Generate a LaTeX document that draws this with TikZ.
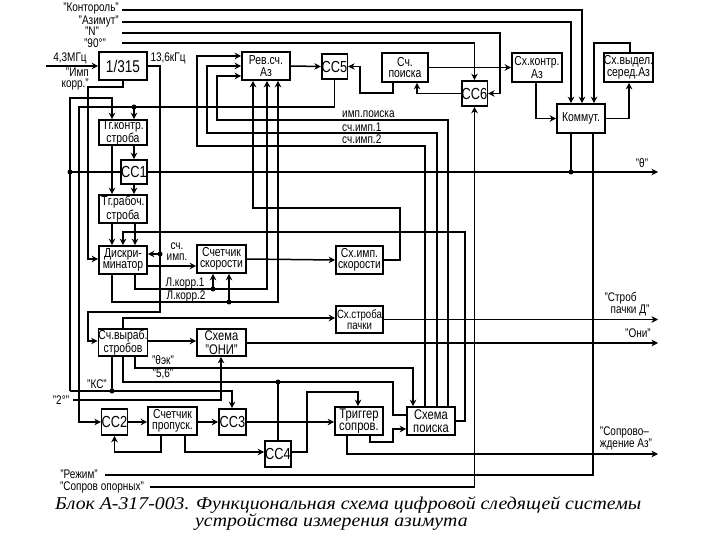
\documentclass[tikz,border=0pt]{standalone}
\usepackage{fontspec}
\setmainfont[FakeStretch=0.8]{Liberation Sans}
\newfontfamily\capfont[FakeStretch=1.1]{Liberation Serif}
\usetikzlibrary{arrows.meta}
\newcommand\mkblk[7][]{\node[blk,minimum width=#5pt,minimum height=#6pt,#1] (#2) at (#3,#4) {#7};}
\begin{document}
\begin{tikzpicture}[x=1pt,y=-1pt,
  blk/.style={draw,line width=1.6pt,inner sep=0pt,align=center,font=\fontsize{13}{11.5}\selectfont},
  big/.style={font=\fontsize{16}{14}\selectfont},
  w/.style={line width=1.5pt},
  ar/.style={w,-{Stealth[length=6.5pt,width=6.5pt,inset=2pt]}},
  lab/.style={inner sep=0pt,font=\fontsize{12.5}{11}\selectfont,align=center},
  dot/.style={circle,fill,inner sep=0pt,minimum size=5pt}]
\useasboundingbox (0,0) rectangle (720,540);
% blocks
\mkblk[font=\fontsize{17}{16}\selectfont]{div}{123}{66}{48}{28}{1/315}
\mkblk{rev}{266}{66}{48}{28}{Рев.сч.\\Аз}
\mkblk[big]{cc5}{334.5}{66.5}{25}{25}{СС5}
\mkblk{sp1}{405}{67.5}{46}{29}{Сч.\\поиска}
\mkblk[big]{cc6}{474.5}{93.5}{25}{25}{СС6}
\mkblk{skz}{537}{67.5}{50}{29}{Сх.контр.\\Аз}
\mkblk{svd}{628.5}{67.5}{49}{29}{Сх.выдел.\\серед.Аз}
\mkblk{kom}{581}{118.5}{48}{29}{Коммут.}
\mkblk{tgk}{123}{132.5}{48}{25}{Тг.контр.\\строба}
\mkblk[big]{cc1}{134}{172}{26}{24}{СС1}
\mkblk{tgr}{123}{209}{48}{28}{Тг.рабоч.\\строба}
\mkblk{dsk}{123}{260}{48}{28}{Дискри-\\минатор}
\mkblk{sks}{221.5}{259}{49}{28}{Счетчик\\скорости}
\mkblk{sis}{359.5}{260}{47}{28}{Сх.имп.\\скорости}
\mkblk[font=\fontsize{12}{11.5}\selectfont]{ssp}{359.5}{319.5}{47}{27}{Сх.строба\\пачки}
\mkblk{vyr}{123}{342.5}{48}{27}{Сч.выраб.\\стробов}
\mkblk[font=\fontsize{14}{13.5}\selectfont]{oni}{221.5}{342.5}{49}{27}{Схема\\"ОНИ"}
\mkblk[big]{cc2}{114.5}{422}{25}{26}{СС2}
\mkblk{spr}{172.5}{421}{49}{28}{Счетчик\\пропуск.}
\mkblk[big]{cc3}{232.5}{422}{27}{26}{СС3}
\mkblk[big]{cc4}{278}{454}{26}{26}{СС4}
\mkblk[font=\fontsize{14}{12.5}\selectfont]{trg}{359}{421}{48}{28}{Триггер\\сопров.}
\mkblk[font=\fontsize{14}{12.5}\selectfont]{shp}{431}{421}{48}{28}{Схема\\поиска}
% input labels
\node[lab,anchor=east] at (119,9) {"Контороль"};
\node[lab,anchor=east] at (119,21) {"Азимут"};
\node[lab] at (92,31) {"N"};
\node[lab] at (95,43) {"90°"};
\node[lab] at (70,58) {4,3МГц};
\node[lab,align=right,anchor=east] at (89,79) {"Имп\\корр."};
\node[lab] at (168,58) {13,6кГц};
\node[lab] at (177,252) {сч.\\имп.};
\node[lab,anchor=west] at (342,114) {имп.поиска};
\node[lab,anchor=west] at (342,127) {сч.имп.1};
\node[lab,anchor=west] at (342,139) {сч.имп.2};
\node[lab] at (185,283) {Л.корр.1};
\node[lab] at (186,296) {Л.корр.2};
\node[lab] at (163,360) {"θэк"};
\node[lab] at (163,374) {"5,6"};
\node[lab] at (97,384) {"КС"};
\node[lab] at (61,400) {"2°"};
\node[lab] at (79,474) {"Режим"};
\node[lab] at (102,487) {"Сопров опорных"};
% output labels
\node[lab] at (642,163) {"θ"};
\node[lab,align=left] at (627,304) {"Строб\\\hspace*{6pt}пачки Д"};
\node[lab] at (638,333) {"Они"};
\node[lab,align=left] at (626,438) {"Сопрово–\\ждение Аз"};
% top inputs
\draw[ar] (122,10) -- (582,10) -- (kom.north -| 582,0);
\draw[ar] (122,22) -- (571,22) -- (kom.north -| 571,0);
\draw[ar] (122,33) -- (500,33) -- (500,93.5) -- (cc6.east);
\draw[ar] (122,43) -- (474.5,43) -- (cc6.north);
\draw[ar] (46,66) -- (div.west);
% 13.6 kHz
\draw[ar] (div.east) -- (160,66) -- (160,312) -- (88,312) -- (88,341) -- (vyr.west |- 0,341);
\node[dot] at (160,254) {};
\draw[ar] (160,254) -- (dsk.east |- 0,254);
\draw[ar] (div.south) -- (123,87) -- (88,87) -- (88,259) -- (dsk.west |- 0,259);
% KC line up x=70
\draw[ar] (70,391) -- (70,98) -- (112,98) -- (tgk.north -| 112,0);
\node[dot] at (70,172) {};
\draw[w] (70,172) -- (cc1.west);
\draw[ar] (vyr.south -| 112,0) -- (112,391) -- (232,391) -- (cc3.north -| 232,0);
\draw[w] (112,391) -- (70,391);
\node[dot] at (112,391) {};
\draw[ar] (73,400) -- (221,400) -- (oni.south -| 221,0);
% CC5 feedback
\draw[ar] (cc5.south) -- (334.5,107) -- (79,107) -- (79,422) -- (cc2.west);
\node[dot] at (134,107) {};
\draw[ar] (134,107) -- (tgk.north -| 134,0);
\draw[ar] (tgk.south -| 134,0) -- (cc1.north);
\draw[ar] (cc1.east) -- (658,172);
\node[dot] at (571,172) {};
\draw[w] (kom.south -| 571,0) -- (571,172);
\draw[ar] (cc1.south) -- (tgr.north -| 134,0);
\draw[ar] (tgk.south -| 112,0) -- (tgr.north -| 112,0);
\draw[ar] (tgr.south -| 112,0) -- (dsk.north -| 112,0);
\draw[ar] (tgr.south -| 135,0) -- (dsk.north -| 135,0);
\draw[ar] (shp.east) -- (465,421) -- (465,232) -- (123,232) -- (dsk.north);
% discriminator outputs
\draw[ar] (dsk.east |- 0,266) -- (sks.west |- 0,266);
\draw[ar] (dsk.south -| 135,0) -- (135,289) -- (267,289) -- (rev.south -| 267,0);
\node[dot] at (213,289) {};
\draw[ar] (213,289) -- (sks.south -| 213,0);
\draw[ar] (dsk.south -| 112,0) -- (112,302) -- (278,302) -- (rev.south -| 278,0);
\node[dot] at (229,302) {};
\draw[ar] (229,302) -- (sks.south -| 229,0);
\draw[ar] (sks.east) -- (sis.west);
\draw[ar] (sis.east) -- (400,260) -- (400,208) -- (253,208) -- (rev.south -| 253,0);
% top row
\draw[ar] (rev.east) -- (cc5.west);
\draw[ar] (sp1.south -| 393,0) -- (393,93) -- (360,93) -- (360,66.5) -- (cc5.east);
\draw[ar] (cc6.west) -- (417,93.5) -- (sp1.south -| 417,0);
\draw[ar] (sp1.east) -- (skz.west);
\draw[ar] (skz.south -| 536,0) -- (536,118.5) -- (kom.west);
\draw[ar] (kom.east) -- (629,118.5) -- (svd.south -| 629,0);
\draw[ar] (svd.north -| 630,0) -- (630,43) -- (594,43) -- (kom.north -| 594,0);
\draw[w] (kom.south -| 593,0) -- (593,475) -- (105,475);
\draw[ar] (150,487) -- (474.5,487) -- (cc6.south);
% search lines into Rev
\draw[ar] (shp.north -| 425,0) -- (425,146) -- (197,146) -- (197,56) -- (rev.west |- 0,56);
\draw[ar] (shp.north -| 437,0) -- (437,133) -- (207,133) -- (207,66) -- (rev.west |- 0,66);
\draw[ar] (shp.north -| 448,0) -- (448,120) -- (217,120) -- (217,76) -- (rev.west |- 0,76);
% strobe generator
\draw[ar] (vyr.north) -- (123,318) -- (ssp.west |- 0,318);
\draw[ar] (vyr.east |- 0,341) -- (oni.west |- 0,341);
\draw[ar] (ssp.east) -- (658,319.5);
\draw[ar] (oni.east |- 0,343) -- (658,343);
\draw[ar] (vyr.south -| 135,0) -- (135,368) -- (413,368) -- (shp.north -| 413,0);
\draw[w] (vyr.south -| 123,0) -- (123,382) -- (393,382) -- (393,415) -- (shp.west |- 0,415);
\node[dot] at (278,382) {};
\draw[w] (278,382) -- (cc4.north);
% bottom row
\draw[ar] (cc2.east) -- (spr.west |- 0,422);
\draw[ar] (spr.east |- 0,422) -- (cc3.west);
\draw[ar] (cc3.east) -- (trg.west |- 0,422);
\draw[ar] (spr.south -| 161,0) -- (161,452) -- (114.5,452) -- (cc2.south);
\draw[ar] (spr.south -| 185,0) -- (185,452) -- (cc4.west |- 0,452);
\draw[ar] (cc4.east |- 0,452) -- (307,452) -- (307,392) -- (358,392) -- (trg.north -| 358,0);
\draw[ar] (trg.south -| 370,0) -- (370,442) -- (393,442) -- (393,429) -- (shp.west |- 0,429);
\draw[ar] (trg.south -| 347,0) -- (347,454) -- (658,454);
% caption
\node[anchor=west,inner sep=0pt,font=\capfont\itshape\fontsize{18}{20}\selectfont] at (55,505) {Блок А-317-003. Функциональная схема цифровой следящей системы};
\node[anchor=west,inner sep=0pt,font=\capfont\itshape\fontsize{18}{20}\selectfont] at (195,522) {устройства измерения азимута};
\end{tikzpicture}
\end{document}
